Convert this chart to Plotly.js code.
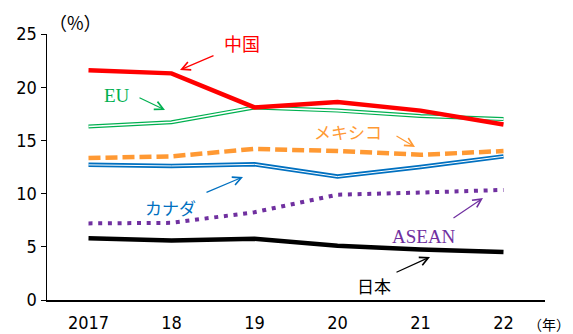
<!DOCTYPE html>
<html><head><meta charset="utf-8">
<script src="https://cdn.plot.ly/plotly-3.0.1.min.js"></script>
<style>body{margin:0;background:#fff}#c{width:573px;height:334px}</style>
</head><body><div id="c"></div>
<script>
const years = ["2017","18","19","20","21","22"];
const china  = [21.6, 21.3, 18.1, 18.6, 17.8, 16.5];
const eu     = [16.3, 16.7, 18.1, 17.8, 17.3, 17.0];
const mexico = [13.35, 13.5, 14.2, 14.0, 13.65, 14.0];
const canada = [12.7, 12.6, 12.75, 11.6, 12.5, 13.5];
const asean  = [7.2, 7.25, 8.25, 9.9, 10.1, 10.35];
const japan  = [5.8, 5.6, 5.75, 5.1, 4.75, 4.5];
const yTicks = [0,5,10,15,20,25];

const jp = '"Noto Sans CJK JP", sans-serif';
const num = '"Liberation Sans Narrow", "DejaVu Sans Condensed", sans-serif';
const serif = '"Liberation Serif", "DejaVu Serif", serif';

function tr(y, color, width, dash){
  return {x: years, y: y, type:'scatter', mode:'lines', hoverinfo:'skip',
    line:{color: color, width: width, dash: dash || 'solid'}};
}
const traces = [
  tr(japan, '#000000', 4.5),
  tr(asean, '#7030A0', 4, '4px,5.7px'),
  tr(canada, '#0070C0', 4.5),
  tr(canada, '#ffffff', 1),
  tr(mexico, '#FF9933', 4.5, '12px,5px'),
  tr(eu, '#00B050', 4),
  tr(eu, '#ffffff', 1.6),
  tr(china, '#FF0000', 4.5)
];

const L=47, R=28, T=34, B=34, W=573, H=334;
const pw=W-L-R, ph=H-T-B;
function px(x){return (x-L)/pw;}
function py(y){return 1-(y-T)/ph;}
function arr(x0,y0,x1,y1,color){
  return {x:px(x1), y:py(y1), ax:x0-x1, ay:y0-y1, xref:'paper', yref:'paper',
    showarrow:true, arrowhead:5, arrowsize:1.4, arrowwidth:1.2, arrowcolor:color, text:''};
}
function lab(x,y,text,color,font,size,anchor){
  return {x:px(x), y:py(y), xref:'paper', yref:'paper', text:text, showarrow:false,
    font:{color:color, family:font, size:size}, xanchor:anchor||'center', yanchor:'middle'};
}
const annotations = [
  lab(75,22,'（%）','#000',jp,18),
  lab(242,43,'中国','#FF0000',jp,18),
  arr(215,55,180,70,'#FF0000'),
  lab(117,96,'EU','#00B050',serif,19),
  arr(138,97,165,110,'#00B050'),
  lab(348,131,'メキシコ','#FF9933',jp,17),
  arr(395,135,415,147,'#FF9933'),
  lab(170,207,'カナダ','#0070C0',jp,17),
  arr(205,193,243,177,'#0070C0'),
  lab(424,236,'ASEAN','#7030A0',serif,19),
  arr(452,219,483,198,'#7030A0'),
  lab(374,285,'日本','#000',jp,17),
  arr(395,273,430,257,'#000'),
  lab(572,324,'（年）','#000',jp,14,'right')
];

const layout = {
  width:W, height:H, margin:{l:L, r:R, t:T, b:B},
  paper_bgcolor:'#fff', plot_bgcolor:'#fff', showlegend:false,
  xaxis:{type:'category', range:[-0.5,5.5], showgrid:false, zeroline:false,
    showline:true, linecolor:'#000', linewidth:1.5, ticks:'', ticklabelstandoff:6,
    tickfont:{family:num, size:18, color:'#000'}, fixedrange:true},
  yaxis:{range:[0,25], tickvals:yTicks, showgrid:false, zeroline:false,
    showline:true, linecolor:'#000', linewidth:1.5, ticks:'outside', ticklen:5, tickcolor:'#000',
    tickfont:{family:num, size:18, color:'#000'}, fixedrange:true},
  annotations: annotations
};
Plotly.newPlot('c', traces, layout, {staticPlot:true});
</script></body></html>
